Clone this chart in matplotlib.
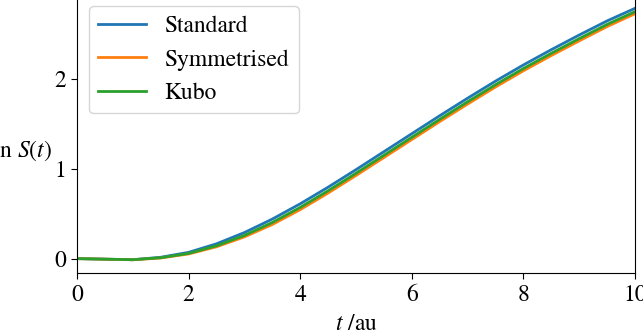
import matplotlib
matplotlib.use('Agg')
import matplotlib.pyplot as plt

plt.rcParams['font.family'] = ['STIXGeneral', 'DejaVu Serif']
plt.rcParams['mathtext.fontset'] = 'stix'
plt.rcParams['font.size'] = 17

# time grid and ln S(t)
t = [0, 0.5, 1, 1.5, 2, 2.5, 3, 3.5, 4, 4.5, 5, 5.5, 6, 6.5, 7, 7.5, 8, 8.5, 9, 9.5, 10]
standard = [0, -0.006, -0.012, 0.015, 0.07, 0.165, 0.29, 0.44, 0.61, 0.795, 0.99,
            1.19, 1.39, 1.59, 1.785, 1.975, 2.155, 2.325, 2.488, 2.645, 2.785]
symmetrised = [0, -0.006, -0.013, 0.007, 0.052, 0.132, 0.242, 0.38, 0.545, 0.73, 0.925,
               1.125, 1.325, 1.525, 1.72, 1.91, 2.09, 2.26, 2.423, 2.582, 2.725]
kubo = [0, -0.006, -0.012, 0.010, 0.058, 0.143, 0.258, 0.402, 0.57, 0.755, 0.95,
        1.15, 1.35, 1.55, 1.745, 1.935, 2.115, 2.285, 2.448, 2.606, 2.748]

fig = plt.figure(figsize=(6.43, 3.32), dpi=100)
ax = fig.add_axes([0.1198, 0.1777, 0.8678, 0.8392])

ax.plot(t, standard, lw=2, label='Standard')
ax.plot(t, symmetrised, lw=2, label='Symmetrised')
ax.plot(t, kubo, lw=2, label='Kubo')

ax.set_xlim(0, 10)
ax.set_ylim(-0.16, 2.94)
ax.set_xticks([0, 2, 4, 6, 8, 10])
ax.set_yticks([0, 1, 2])
ax.tick_params(length=4.5)

ax.set_xlabel(r'$t$ /au', labelpad=6)
ax.set_ylabel(r'$\ln\,S(t)$', rotation=0, ha='right', va='center')
ax.yaxis.set_label_coords(-0.045, 0.44)

ax.legend(loc='upper left')

fig.savefig('out.png', dpi=100)
